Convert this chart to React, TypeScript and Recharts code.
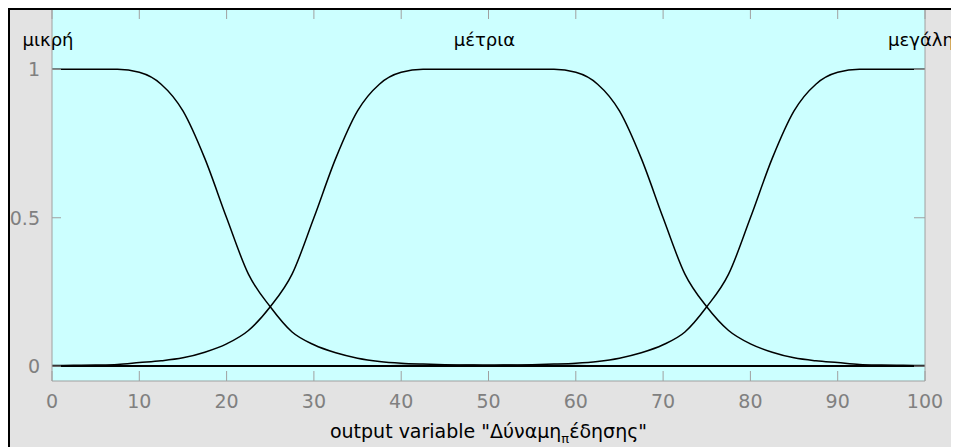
import { LineChart, Line, XAxis, YAxis, CartesianGrid, ReferenceLine, ReferenceDot } from 'recharts'

const xValues = [0, 2.5, 5, 7.5, 10, 12.5, 15, 17.5, 20, 22.5, 25, 27.5, 30, 32.5, 35, 37.5, 40, 42.5, 45, 47.5, 50,
  52.5, 55, 57.5, 60, 62.5, 65, 67.5, 70, 72.5, 75, 77.5, 80, 82.5, 85, 87.5, 90, 92.5, 95, 97.5, 100]

const mikri = [1, 1, 1, 1, 0.99, 0.95, 0.86, 0.7, 0.5, 0.31, 0.2, 0.115, 0.072, 0.045, 0.027, 0.016, 0.01, 0.007, 0.005, 0.004, 0.003,
  0.003, 0.002, 0.002, 0.002, 0.001, 0.001, 0.001, 0.001, 0.001, 0.001, 0.001, 0.001, 0.001, 0.001, 0.001, 0.001, 0.001, 0.001, 0.001, 0.001]

const metria = [0.002, 0.003, 0.004, 0.006, 0.012, 0.018, 0.028, 0.047, 0.075, 0.12, 0.2, 0.31, 0.5, 0.7, 0.86, 0.95, 0.99, 1, 1, 1, 1,
  1, 1, 1, 0.99, 0.95, 0.86, 0.7, 0.5, 0.31, 0.2, 0.12, 0.075, 0.047, 0.028, 0.018, 0.012, 0.006, 0.004, 0.003, 0.002]

const megali = [0.001, 0.001, 0.001, 0.001, 0.001, 0.001, 0.001, 0.001, 0.001, 0.001, 0.001, 0.001, 0.001, 0.001, 0.001, 0.001, 0.002, 0.002, 0.002, 0.003, 0.003,
  0.004, 0.005, 0.007, 0.01, 0.016, 0.027, 0.045, 0.072, 0.115, 0.2, 0.31, 0.5, 0.7, 0.86, 0.95, 0.99, 1, 1, 1, 1]

const mfNames = ['μικρή', 'μέτρια', 'μεγάλη']
const mfCenters = [0, 50, 100]
const mfLabelLevel = 1.1

const xTicks = [0, 10, 20, 30, 40, 50, 60, 70, 80, 90, 100]
const yTicks = [0, 0.5, 1]

const chartData = xValues.map((x, i) => ({
  x,
  mikri: mikri[i],
  metria: metria[i],
  megali: megali[i],
}))

const FONT = 'DejaVu Sans'
const GRAY_TEXT = '#808080'
const GRAY_LINE = '#a0a0a0'
const PLOT_HEIGHT = 371

// bottom axis tick: inward marks at bottom and top of the box + label
function BottomTick({ x, y, payload }: any) {
  return (
    <g>
      <line x1={x} y1={y} x2={x} y2={y - 10} stroke={GRAY_LINE} />
      <line x1={x} y1={y - PLOT_HEIGHT} x2={x} y2={y - PLOT_HEIGHT + 9} stroke={GRAY_LINE} />
      <text x={x} y={y + 27} textAnchor="middle" fill={GRAY_TEXT} fontSize={19} fontFamily={FONT}>
        {payload.value}
      </text>
    </g>
  )
}

function LeftTick({ x, y, payload }: any) {
  return (
    <g>
      <line x1={x} y1={y} x2={x + 9} y2={y} stroke={GRAY_LINE} />
      <text x={x - 12} y={y + 7} textAnchor="end" fill={GRAY_TEXT} fontSize={19} fontFamily={FONT}>
        {payload.value}
      </text>
    </g>
  )
}

function RightTick({ x, y }: any) {
  return <line x1={x} y1={y} x2={x - 11} y2={y} stroke={GRAY_LINE} />
}

function XTitle({ viewBox }: any) {
  const cx = viewBox.x + viewBox.width / 2
  return (
    <text x={cx} y={viewBox.y + 57} textAnchor="middle" fill="#000" fontSize={19} fontFamily={FONT}>
      <tspan>output variable "Δύναμη</tspan>
      <tspan fontSize={13} dy={5}>π</tspan>
      <tspan dy={-5}>έδησης"</tspan>
    </text>
  )
}

function MfLabel({ viewBox, value }: any) {
  const cx = viewBox.x + viewBox.width / 2 - 4
  const cy = viewBox.y + viewBox.height / 2
  return (
    <text x={cx} y={cy + 6} textAnchor="middle" fill="#000" fontSize={18} fontFamily={FONT}>
      {value}
    </text>
  )
}

export default function App() {
  return (
    <div
      style={{
        width: 949,
        height: 437,
        borderTop: '2px solid #000',
        borderLeft: '2px solid #000',
        background: '#e3e3e3',
        fontFamily: FONT,
      }}
    >
      <LineChart width={949} height={437} data={chartData} margin={{ top: 0, right: 0, bottom: 0, left: 0 }}>
        <CartesianGrid fill="#ccffff" horizontal={false} vertical={false} />
        <XAxis
          dataKey="x"
          type="number"
          domain={[0, 100]}
          ticks={xTicks}
          interval={0}
          allowDataOverflow
          height={66}
          tickSize={0}
          tickMargin={0}
          stroke={GRAY_LINE}
          tick={<BottomTick />}
          label={{ content: <XTitle /> }}
        />
        <YAxis
          type="number"
          domain={[-0.05, 1.2]}
          ticks={yTicks}
          interval={0}
          allowDataOverflow
          width={42}
          tickSize={0}
          tickMargin={0}
          stroke={GRAY_LINE}
          tick={<LeftTick />}
        />
        <YAxis
          yAxisId="right"
          orientation="right"
          type="number"
          domain={[-0.05, 1.2]}
          ticks={yTicks}
          interval={0}
          allowDataOverflow
          width={34}
          tickSize={0}
          tickMargin={0}
          stroke={GRAY_LINE}
          tick={<RightTick />}
        />
        <ReferenceLine y={0} stroke="#000" strokeWidth={1.5} />
        <Line type="monotone" dataKey="mikri" stroke="#000" strokeWidth={1.5} dot={false} isAnimationActive={false} />
        <Line type="monotone" dataKey="metria" stroke="#000" strokeWidth={1.5} dot={false} isAnimationActive={false} />
        <Line type="monotone" dataKey="megali" stroke="#000" strokeWidth={1.5} dot={false} isAnimationActive={false} />
        {mfNames.map((name, i) => (
          <ReferenceDot
            key={name}
            x={mfCenters[i]}
            y={mfLabelLevel}
            r={0}
            fill="none"
            stroke="none"
            label={{ value: name, content: <MfLabel /> }}
          />
        ))}
      </LineChart>
    </div>
  )
}
